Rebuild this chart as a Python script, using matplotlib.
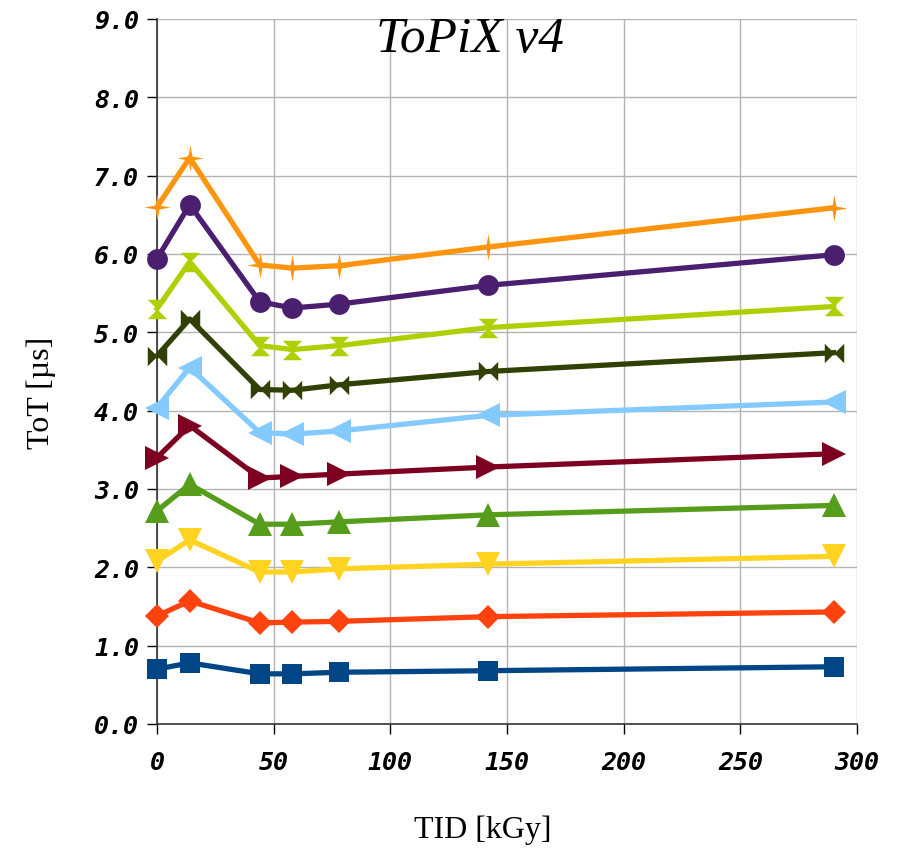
import matplotlib.pyplot as plt
from matplotlib.path import Path

tid = [0, 14, 44, 58, 78, 142, 290]

tot_blue = [0.70, 0.78, 0.64, 0.64, 0.66, 0.68, 0.73]
tot_red = [1.38, 1.57, 1.29, 1.30, 1.31, 1.37, 1.43]
tot_yellow = [2.08, 2.35, 1.94, 1.94, 1.98, 2.04, 2.14]
tot_green = [2.72, 3.06, 2.55, 2.55, 2.58, 2.67, 2.79]
tot_maroon = [3.40, 3.81, 3.14, 3.16, 3.19, 3.28, 3.45]
tot_sky = [4.04, 4.55, 3.72, 3.70, 3.74, 3.94, 4.11]
tot_olive = [4.70, 5.17, 4.27, 4.26, 4.33, 4.50, 4.74]
tot_lime = [5.30, 5.90, 4.83, 4.78, 4.83, 5.06, 5.33]
tot_purple = [5.94, 6.63, 5.39, 5.31, 5.36, 5.60, 5.99]
tot_orange = [6.60, 7.23, 5.86, 5.82, 5.85, 6.09, 6.59]

x_ticks = [0, 50, 100, 150, 200, 250, 300]
y_ticks = [0, 1, 2, 3, 4, 5, 6, 7, 8, 9]

# custom marker shapes
hourglass = Path([(-1, 1), (1, 1), (-1, -1), (1, -1), (-1, 1)],
                 [Path.MOVETO, Path.LINETO, Path.LINETO, Path.LINETO, Path.CLOSEPOLY])
bowtie = Path([(-1, 1), (-1, -1), (1, 1), (1, -1), (-1, 1)],
              [Path.MOVETO, Path.LINETO, Path.LINETO, Path.LINETO, Path.CLOSEPOLY])
s = 0.15
star4 = Path([(0, 1), (s, s), (1, 0), (s, -s), (0, -1), (-s, -s), (-1, 0), (-s, s), (0, 1)],
             [Path.MOVETO] + [Path.LINETO] * 7 + [Path.CLOSEPOLY])

series = [
    (tot_blue, "#004586", "s", 14),
    (tot_red, "#ff420e", "D", 12),
    (tot_yellow, "#ffd320", "v", 17),
    (tot_green, "#579d1c", "^", 17),
    (tot_maroon, "#7e0021", ">", 17),
    (tot_sky, "#83caff", "<", 17),
    (tot_olive, "#314004", bowtie, 14),
    (tot_lime, "#aecf00", hourglass, 14),
    (tot_purple, "#4b1f6f", "o", 15),
    (tot_orange, "#ff950e", star4, 19),
]

fig = plt.figure(figsize=(9.01, 8.54), dpi=100)
ax = fig.add_axes([0.1743, 0.1511, 0.7769, 0.8255])

for vals, col, mk, ms in series:
    ax.plot(tid, vals, color=col, lw=3.8, marker=mk, markersize=ms,
            markeredgewidth=0, markerfacecolor=col, clip_on=False, zorder=3)

ax.set_xlim(0, 300)
ax.set_ylim(0, 9)
ax.set_xticks(x_ticks)
ax.set_yticks(y_ticks)
ax.set_yticklabels([f"{v:.1f}" for v in y_ticks])
ax.grid(True, color="#b3b3b3", lw=1)
ax.set_axisbelow(True)
for side in ["top", "right"]:
    ax.spines[side].set_visible(False)
for side in ["left", "bottom"]:
    ax.spines[side].set_color("#333333")
    ax.spines[side].set_linewidth(1.2)

tick_font = dict(family="DejaVu Sans Mono", weight="bold", style="italic", size=18)
for lbl in ax.get_xticklabels() + ax.get_yticklabels():
    lbl.set_fontproperties(tick_font)
ax.tick_params(axis="x", length=7, width=1, pad=12)
ax.tick_params(axis="y", length=7, width=1, pad=6)

ax.set_xlabel("TID [kGy]", family="Liberation Serif", size=23)
ax.set_ylabel("ToT [µs]", family="Liberation Serif", size=23)
ax.xaxis.set_label_coords(0.466, -0.128)
ax.yaxis.set_label_coords(-0.144, 0.471)
fig.text(0.522, 0.953, "ToPiX v4", family="Liberation Serif", style="italic",
         size=37, ha="center", va="center")

fig.savefig("out.png", dpi=100)
